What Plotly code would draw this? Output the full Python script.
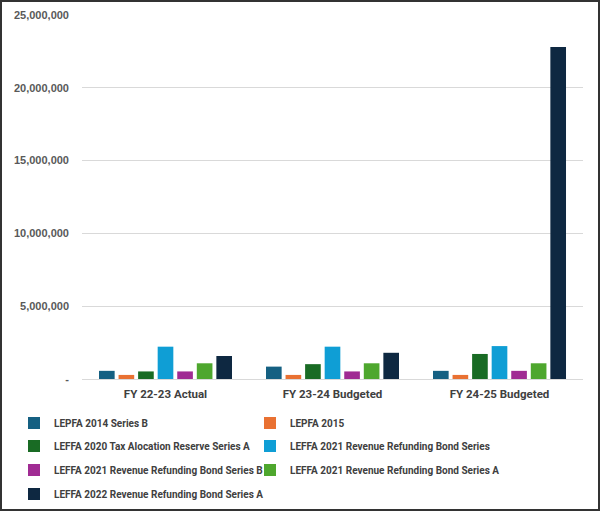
import plotly.graph_objects as go

categories = ["FY 22-23 Actual", "FY 23-24 Budgeted", "FY 24-25 Budgeted"]
series_names = [
    "LEPFA 2014 Series B",
    "LEPFA 2015",
    "LEFFA 2020 Tax Alocation Reserve Series A",
    "LEFFA 2021 Revenue Refunding Bond Series",
    "LEFFA 2021 Revenue Refunding Bond Series B",
    "LEFFA 2021 Revenue Refunding Bond Series A",
    "LEFFA 2022 Revenue Refunding Bond Series A",
]
lepfa_2014_b = [560000, 850000, 560000]
lepfa_2015 = [280000, 280000, 280000]
leffa_2020_tax = [520000, 1020000, 1720000]
leffa_2021_rrb = [2220000, 2220000, 2260000]
leffa_2021_rrb_b = [520000, 520000, 560000]
leffa_2021_rrb_a = [1080000, 1080000, 1080000]
leffa_2022_rrb_a = [1580000, 1800000, 22800000]
series_values = [lepfa_2014_b, lepfa_2015, leffa_2020_tax, leffa_2021_rrb,
                 leffa_2021_rrb_b, leffa_2021_rrb_a, leffa_2022_rrb_a]
colors = ["#156082", "#E97132", "#196B24", "#0F9ED5", "#A02B93", "#4EA72E", "#0E2841"]
tick_vals = [0, 5000000, 10000000, 15000000, 20000000, 25000000]
tick_text = ["-", "5,000,000", "10,000,000", "15,000,000", "20,000,000", "25,000,000"]

W, H = 600, 511
ML, MR, MT, MB = 82, 17, 15, 132
PW, PH = W - ML - MR, H - MT - MB

narrow = "Roboto, Liberation Sans, sans-serif"
legend_font = dict(family=narrow, size=10, color="#404040", weight="bold")

# legend slot for each series: (left x of legend box in px, row centre y in px)
col_x = [14, 250]
row_y = [423, 446, 470, 494]
slots = [(col_x[i % 2], row_y[i // 2]) for i in range(len(series_names))]

fig = go.Figure()
legends = {}
for i, (name, vals, col) in enumerate(zip(series_names, series_values, colors)):
    key = "legend" if i == 0 else f"legend{i + 1}"
    fig.add_trace(go.Bar(x=categories, y=vals, name=name,
                         marker=dict(color=col, line=dict(width=0)), legend=key))
    lx, ly = slots[i]
    legends[key] = dict(
        orientation="h", x=(lx - ML) / PW, xanchor="left",
        y=(H - MB - ly) / PH, yanchor="middle",
        font=legend_font, bgcolor="rgba(0,0,0,0)", itemclick=False, itemdoubleclick=False,
    )

fig.update_layout(
    width=W, height=H,
    margin=dict(l=ML, r=MR, t=MT, b=MB, autoexpand=False),
    paper_bgcolor="white", plot_bgcolor="white",
    barmode="group", bargap=0.18, bargroupgap=0.2,
    showlegend=True,
    **legends,
    xaxis=dict(showgrid=False, showline=False, ticks="", ticklabelstandoff=6, automargin=False,
               tickfont=dict(family=narrow, size=11.5, color="#404040", weight="bold")),
    yaxis=dict(range=[0, 25000000], tickvals=tick_vals, ticktext=tick_text, automargin=False,
               showgrid=True, gridcolor="#d9d9d9", gridwidth=1, zeroline=True,
               zerolinecolor="#d9d9d9", zerolinewidth=1, ticks="", ticklabelstandoff=12,
               tickfont=dict(family="Liberation Sans, Arial, sans-serif", size=11, color="#595959",
                             weight="bold")),
    shapes=[dict(type="rect", xref="paper", yref="paper",
                 x0=(1 - ML) / PW, x1=(W - 1 - ML) / PW,
                 y0=(H - MB - (H - 1)) / PH, y1=(H - MB - 1) / PH,
                 line=dict(color="#333333", width=2), fillcolor="rgba(0,0,0,0)", layer="above")],
)
fig.write_html("out.html", config={"displayModeBar": False},
               post_script="document.body.style.margin='0';document.body.style.overflow='hidden';")
